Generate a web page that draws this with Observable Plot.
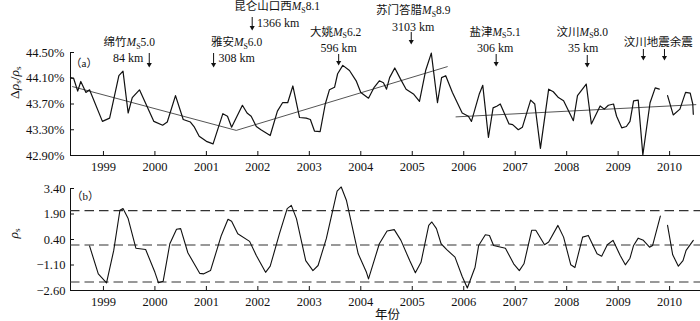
<!DOCTYPE html>
<html><head><meta charset="utf-8">
<script src="https://cdn.jsdelivr.net/npm/d3@7"></script>
<script src="https://cdn.jsdelivr.net/npm/@observablehq/plot@0.6"></script>
<style>
body{margin:0;background:#fff}
#chart{width:700px;height:321px;overflow:hidden;background:#fff}
#chart svg{display:block}
</style></head><body><div id="chart"></div>
<script>
// ---------- data ----------
const yearTicks = [1999,2000,2001,2002,2003,2004,2005,2006,2007,2008,2009,2010];
const topTicks = [42.90,43.30,43.70,44.10,44.50];
const bottomTicks = [-2.60,-1.10,0.40,1.90,3.40];

// (a) relative change of apparent resistivity (%), monthly
const topT = [1998.36,1998.42,1998.50,1998.56,1998.66,1998.73,1998.98,1999.12,1999.30,1999.38,
1999.48,1999.56,1999.70,1999.98,2000.15,2000.24,2000.40,2000.55,2000.69,2000.76,
2000.86,2001.00,2001.13,2001.32,2001.41,2001.49,2001.70,2001.79,2001.87,2001.97,
2002.06,2002.24,2002.38,2002.48,2002.58,2002.68,2002.81,2002.94,2003.02,2003.10,
2003.21,2003.31,2003.39,2003.49,2003.55,2003.65,2003.78,2003.91,2004.00,2004.15,
2004.26,2004.36,2004.44,2004.50,2004.56,2004.66,2004.77,2004.88,2005.03,2005.14,
2005.26,2005.37,2005.49,2005.57,2005.65,2005.78,2005.97,2006.09,2006.15,2006.30,
2006.37,2006.48,2006.57,2006.65,2006.71,2006.88,2006.95,2007.06,2007.14,2007.30,
2007.38,2007.49,2007.65,2007.74,2007.84,2007.94,2008.13,2008.21,2008.38,2008.48,
2008.65,2008.73,2008.81,2008.91,2008.97,2009.07,2009.16,2009.23,2009.30,2009.39,
2009.48,2009.62,2009.72,2009.80,2009.88,2009.96,2010.07,2010.20,2010.31,2010.40,
2010.45,2010.46];
const topV = [44.11,44.10,43.90,44.05,43.88,43.92,43.43,43.48,44.14,44.21,
43.56,43.80,43.92,43.43,43.37,43.42,43.83,43.46,43.42,43.35,
43.20,43.12,43.08,43.55,43.51,43.34,43.68,43.56,43.51,43.35,
43.30,43.21,43.59,43.72,43.72,43.98,43.49,43.48,43.46,43.28,
43.27,43.70,43.92,43.96,44.17,44.30,44.22,44.06,43.88,43.79,
43.96,44.06,44.03,43.93,44.11,44.26,44.09,43.93,43.85,43.74,
44.22,44.49,43.72,44.11,44.14,43.88,43.56,43.51,43.43,43.85,
43.99,43.18,43.64,43.67,43.70,43.39,43.38,43.30,43.34,43.76,
43.70,43.01,43.93,43.89,43.80,43.75,43.44,43.83,44.01,43.39,
43.67,43.62,43.68,43.70,43.51,43.33,43.35,43.43,43.75,43.76,
42.91,43.72,43.95,43.93,null,43.83,43.53,43.62,43.88,43.87,
43.70,43.54];

// fitted trend segments
const trend1T = [1998.40, 2001.58, 2005.68];
const trend1V = [43.97, 43.29, 44.28];
const trend2T = [2005.85, 2010.51];
const trend2V = [43.50, 43.69];

// (b) normalized series
const botT = [1998.73,1998.90,1999.06,1999.20,1999.32,1999.38,1999.48,1999.63,1999.82,2000.00,
2000.07,2000.16,2000.29,2000.42,2000.50,2000.64,2000.87,2000.95,2001.08,2001.29,
2001.42,2001.49,2001.61,2001.84,2001.97,2002.15,2002.24,2002.42,2002.57,2002.65,
2002.75,2002.93,2003.07,2003.17,2003.33,2003.54,2003.62,2003.72,2003.95,2004.11,
2004.15,2004.36,2004.51,2004.65,2004.78,2004.95,2005.06,2005.17,2005.32,2005.38,
2005.47,2005.56,2005.67,2005.83,2005.97,2006.07,2006.22,2006.29,2006.42,2006.50,
2006.58,2006.81,2006.97,2007.08,2007.17,2007.32,2007.40,2007.57,2007.65,2007.83,
2007.94,2008.08,2008.16,2008.31,2008.42,2008.59,2008.68,2008.79,2008.90,2009.04,
2009.14,2009.23,2009.30,2009.39,2009.49,2009.61,2009.67,2009.82,2009.89,2009.96,
2010.06,2010.17,2010.26,2010.32,2010.46];
const botV = [0.02,-1.62,-2.15,-0.24,2.12,2.22,1.63,-0.11,-0.19,-1.53,
-2.15,-2.06,0.15,1.00,1.04,-0.38,-1.59,-1.62,-1.43,0.64,
1.59,1.47,0.74,0.29,-0.54,-1.53,-1.17,0.74,2.22,2.41,
1.63,-0.84,-1.43,-1.13,0.45,3.24,3.49,2.71,-0.44,-1.53,
-1.92,0.15,0.90,0.98,0.35,-0.84,-1.56,-0.94,1.23,1.43,
1.04,0.15,-0.19,-0.64,-1.78,-2.45,-1.23,0.05,0.68,0.64,
0.05,-0.11,-1.03,-1.43,-1.03,0.94,0.94,0.09,0.25,1.23,
0.54,-1.09,-1.25,0.54,0.64,-0.44,-0.58,0.09,0.35,-0.54,
-1.09,-0.70,0.05,0.48,0.35,-0.05,0.05,1.78,null,1.23,
-0.50,-1.17,-0.84,-0.24,0.35];
const levels = [2.10, 0.08, -2.10];

// earthquakes
const eventNames = ["绵竹*M*_S5.0","雅安*M*_S6.0","昆仑山口西*M*_S8.1","大姚*M*_S6.2","苏门答腊*M*_S8.9","盐津*M*_S5.1","汶川*M*_S8.0","汶川地震余震"];
const eventDists = ["84 km","308 km","1366 km","596 km","3103 km","306 km","35 km",""];
const eventTimes = [1999.89,2001.14,2001.89,2003.57,2004.98,2006.63,2008.40,2009.49];
const aftershockTimes = [2009.49,2009.90];

// ---------- layout / style ----------
const FONT = "'Liberation Serif','Noto Sans CJK SC',serif";
const W = 700, ML = 70, MR = 0;
const XD = [1998.36, 2010.6];
const PXY = (W - ML - MR) / (XD[1] - XD[0]);
// label placement (pixels): name offset, name row, dist offset, dist row, arrow top/bottom
const annLayout = [
  {nameDx:-20,nameY:42,distDx:-21,distY:58,a1:53,a2:66},
  {nameDx:23,nameY:42,distDx:23,distY:58,a1:53,a2:66},
  {nameDx:25,nameY:6,distDx:26,distY:23,a1:17,a2:29},
  {nameDx:-3,nameY:31.5,distDx:0,distY:48,a1:54,a2:64},
  {nameDx:2,nameY:10,distDx:2,distY:26.5,a1:32,a2:43},
  {nameDx:-1,nameY:31.5,distDx:-1,distY:48,a1:54,a2:65},
  {nameDx:-5,nameY:31.5,distDx:-4,distY:48,a1:55,a2:66},
  {nameDx:15,nameY:42,distDx:0,distY:0,a1:49,a2:59}
];

const fmtNum = d => (d < 0 ? "\u2212" : "") + Math.abs(d).toFixed(2);

function richify(svg){
  const NS = "http://www.w3.org/2000/svg";
  svg.querySelectorAll("text").forEach(el => {
    const s = el.textContent;
    if (!/[_*]/.test(s) || el.querySelector("tspan")) return;
    while (el.firstChild) el.removeChild(el.firstChild);
    let italic = false, buf = "", shift = 0;
    const add = (txt, attrs) => {
      const t = document.createElementNS(NS, "tspan");
      for (const k in attrs) t.setAttribute(k, attrs[k]);
      t.textContent = txt; el.appendChild(t);
    };
    const flush = () => {
      if (!buf) return;
      const a = {};
      if (italic) a["font-style"] = "italic";
      if (shift) { a.dy = -shift; shift = 0; }
      add(buf, a); buf = "";
    };
    for (let i = 0; i < s.length; i++) {
      const c = s[i];
      if (c === "*") { flush(); italic = !italic; continue; }
      if (c === "_") {
        flush();
        shift = 2.5;
        add(s[i+1], {"font-size":"0.68em","font-style":"normal", dy: shift});
        i++; continue;
      }
      buf += c;
    }
    flush();
  });
}

// ---------- top panel ----------
function topPanel(){
  const H = 172, MT = 52, MB = 17;
  const yD = [42.90, 44.50];
  const pv = px => yD[1] - (px - MT) / (H - MT - MB) * (yD[1] - yD[0]);
  const rows = topT.map((t, i) => ({t, v: topV[i]}));
  const trend = [
    ...trend1T.map((t, i) => ({t, v: trend1V[i], g: 1})),
    ...trend2T.map((t, i) => ({t, v: trend2V[i], g: 2}))
  ];
  const ann = eventNames.map((name, i) => ({name, dist: eventDists[i], t: eventTimes[i], ...annLayout[i]}));
  const arrows = [
    ...ann.slice(0, 7).map(d => ({t: d.t, a1: d.a1, a2: d.a2})),
    ...aftershockTimes.map(t => ({t, a1: annLayout[7].a1, a2: annLayout[7].a2}))
  ];
  return Plot.plot({
    width: W, height: H, marginLeft: ML, marginRight: MR, marginTop: MT, marginBottom: MB,
    style: {fontFamily: FONT, fontSize: "12px", color: "#111", background: "white", overflow: "visible"},
    x: {domain: XD},
    y: {domain: yD},
    marks: [
      Plot.ruleX([XD[0]], {stroke: "#111", strokeWidth: 1}),
      Plot.ruleY([yD[0]], {stroke: "#111", strokeWidth: 1}),
      Plot.axisY({ticks: topTicks, tickSize: -4, tickPadding: 10, tickFormat: d => d.toFixed(2) + "%", label: null, fontSize: 12.5}),
      Plot.axisX({ticks: yearTicks, tickSize: -4, tickPadding: 11, tickFormat: d => String(d), label: null, fontSize: 12.5}),
      Plot.line(trend, {x: "t", y: "v", z: "g", stroke: "#555", strokeWidth: 1}),
      Plot.line(rows, {x: "t", y: "v", stroke: "#111", strokeWidth: 1.2}),
      Plot.text(ann, {x: d => d.t + d.nameDx / PXY, y: d => pv(d.nameY), text: "name", fontSize: 11.5}),
      Plot.text(ann.filter(d => d.dist), {x: d => d.t + d.distDx / PXY, y: d => pv(d.distY), text: "dist", fontSize: 12}),
      Plot.ruleX(arrows, {x: "t", y1: d => pv(d.a1), y2: d => pv(d.a2 - 2), stroke: "#111", strokeWidth: 1}),
      Plot.dot(arrows, {x: "t", y: d => pv(d.a2 - 2), symbol: "triangle", rotate: 180, r: 1.9, fill: "#111", stroke: "none"}),
      Plot.text(["（a）"], {frameAnchor: "top-left", dx: 0, dy: 7, textAnchor: "start", fontSize: 11}),
      Plot.text(["Δ*ρ*_s/*ρ*_s"], {frameAnchor: "left", rotate: -90, dx: -56, dy: -5, fontSize: 13.5})
    ]
  });
}

// ---------- bottom panel ----------
function bottomPanel(){
  const H = 149, MT = 16, MB = 31;
  const rows = botT.map((t, i) => ({t, v: botV[i]}));
  return Plot.plot({
    width: W, height: H, marginLeft: ML, marginRight: MR, marginTop: MT, marginBottom: MB,
    style: {fontFamily: FONT, fontSize: "12px", color: "#111", background: "white", overflow: "visible"},
    x: {domain: XD},
    y: {domain: [-2.60, 3.40]},
    marks: [
      Plot.ruleX([XD[0]], {stroke: "#111", strokeWidth: 1}),
      Plot.ruleY([-2.60], {stroke: "#111", strokeWidth: 1}),
      Plot.axisY({ticks: bottomTicks, tickSize: -4, tickPadding: 9, tickFormat: fmtNum, label: null, fontSize: 12.5}),
      Plot.axisX({ticks: yearTicks, tickSize: -4, tickPadding: 11, tickFormat: d => String(d), label: null, fontSize: 12.5}),
      Plot.ruleY(levels, {stroke: "#333", strokeWidth: 1.1, strokeDasharray: "9.5,5"}),
      Plot.line(rows, {x: "t", y: "v", stroke: "#111", strokeWidth: 1.1}),
      Plot.text(["（b）"], {frameAnchor: "top-left", dx: 1, dy: 4, textAnchor: "start", fontSize: 11}),
      Plot.text(["*ρ*_s"], {frameAnchor: "left", rotate: -90, dx: -57, dy: -1, fontSize: 13.5}),
      Plot.text(["年份"], {frameAnchor: "bottom", lineAnchor: "middle", dx: 2, dy: 24, fontSize: 12.5, fontFamily: "'Noto Sans CJK SC',sans-serif"})
    ]
  });
}

const root = document.getElementById("chart");
const a = topPanel(); const b = bottomPanel();
richify(a); richify(b);
root.appendChild(a); root.appendChild(b);
</script>
</body></html>
